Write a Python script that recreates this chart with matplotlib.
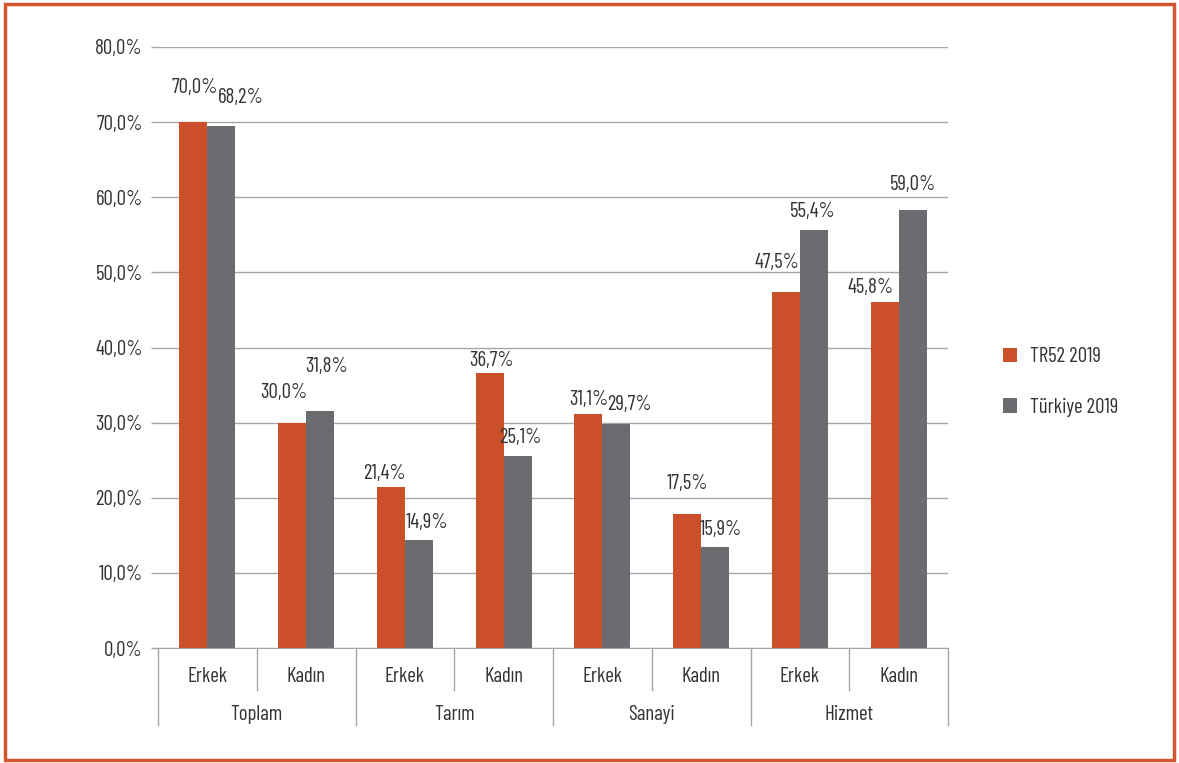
import matplotlib

matplotlib.use("Agg")
import matplotlib.pyplot as plt
from matplotlib.patches import Rectangle
import matplotlib.transforms as mtransforms

plt.rcParams["font.family"] = ["Barlow Condensed", "DejaVu Sans"]

# ----------------------------------------------------------------------------
# Data
# ----------------------------------------------------------------------------
groups = ["Toplam", "Tarım", "Sanayi", "Hizmet"]
genders = ["Erkek", "Kadın"]
series_names = ["TR52 2019", "Türkiye 2019"]

# bar heights as drawn (percent)
tr52_values = [70.0, 29.9, 21.4, 36.6, 31.2, 17.9, 47.4, 46.1]
turkiye_values = [69.5, 31.5, 14.4, 25.5, 29.8, 13.5, 55.7, 58.3]

# data label texts
tr52_labels = ["70,0%", "30,0%", "21,4%", "36,7%", "31,1%", "17,5%", "47,5%", "45,8%"]
turkiye_labels = ["68,2%", "31,8%", "14,9%", "25,1%", "29,7%", "15,9%", "55,4%", "59,0%"]

y_ticks = [0, 10, 20, 30, 40, 50, 60, 70, 80]

# label offsets from bar top (pixels)
tr52_offsets = [(1, 35), (-8, 31), (-6, 14), (2, 13), (0, 14), (0, 30), (-9, 29), (-14, 14)]
turkiye_offsets = [(19, 28), (7, 45), (8, 17), (3, 19), (13, 20), (6, 17), (-1, 18), (0, 26)]

ORANGE = "#CB4F28"
GRAY = "#6B6C70"
GRID = "#A6A6A6"
TEXT = "#333333"
FS = 15

fig = plt.figure(figsize=(11.79, 7.63), dpi=100)
ax = fig.add_axes([158 / 1179, 115 / 763, 790 / 1179, 601 / 763])

n = len(tr52_values)
centers = [i + 0.5 for i in range(n)]
bw = 0.2835
x_tr = [c - bw / 2 for c in centers]
x_tu = [c + bw / 2 for c in centers]

ax.bar(x_tr, tr52_values, width=bw, color=ORANGE, label=series_names[0], zorder=3)
ax.bar(x_tu, turkiye_values, width=bw, color=GRAY, label=series_names[1], zorder=3)

for xs, vals, labs, offs in [
    (x_tr, tr52_values, tr52_labels, tr52_offsets),
    (x_tu, turkiye_values, turkiye_labels, turkiye_offsets),
]:
    for x, v, lab, (dx, dy) in zip(xs, vals, labs, offs):
        ax.annotate(
            lab,
            (x, v),
            xytext=(dx, dy),
            textcoords="offset pixels",
            ha="center",
            va="center",
            fontsize=FS,
            color=TEXT,
        )

ax.set_xlim(0, n)
ax.set_ylim(0, 80)
ax.set_yticks(y_ticks)
ax.set_yticklabels([f"{t:.1f}".replace(".", ",") + "%" for t in y_ticks])
ax.yaxis.grid(True, color=GRID, linewidth=1, zorder=0)
ax.tick_params(axis="y", length=5, width=1, color=GRID, pad=6,
               labelsize=FS, labelcolor=TEXT)
ax.set_xticks([])
for side in ["left", "right", "top"]:
    ax.spines[side].set_visible(False)
ax.spines["bottom"].set_color(GRID)
ax.spines["bottom"].set_zorder(4)

# two-level category axis
trans = mtransforms.blended_transform_factory(ax.transData, ax.transAxes)
for k in range(n + 1):
    depth = -0.128 if k % 2 == 0 else -0.0699
    ax.plot([k, k], [0, depth], transform=trans, color=GRID, linewidth=1,
            clip_on=False)
for i, c in enumerate(centers):
    ax.text(c, -0.0466, genders[i % 2], transform=trans, ha="center",
            va="center", fontsize=FS, color=TEXT)
for g, name in enumerate(groups):
    ax.text(2 * g + 1, -0.110, name, transform=trans, ha="center",
            va="center", fontsize=FS, color=TEXT)

leg = ax.legend(
    loc="center left",
    bbox_to_anchor=(984 / 1179, 381 / 763),
    bbox_transform=fig.transFigure,
    frameon=False,
    fontsize=FS,
    handlelength=0.7,
    handleheight=0.7,
    handletextpad=0.6,
    labelspacing=1.5,
)
for t in leg.get_texts():
    t.set_color(TEXT)

# orange outer frame
fig.patches.append(
    Rectangle((5 / 1179, 3 / 763), 1169 / 1179, 756 / 763,
              transform=fig.transFigure, fill=False,
              edgecolor="#D4562E", linewidth=2.5)
)

fig.savefig("out.png", dpi=100)
